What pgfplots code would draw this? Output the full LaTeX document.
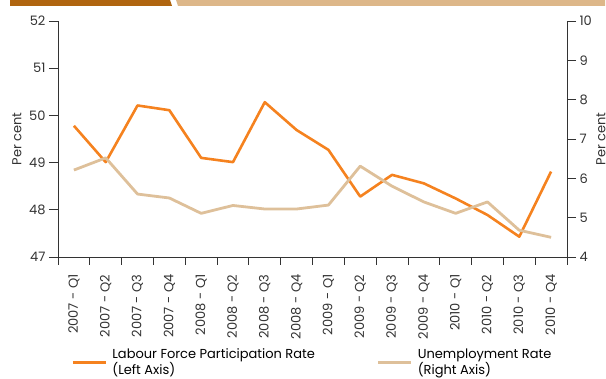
\documentclass[border=0pt]{standalone}
\usepackage{pgfplots}
\pgfplotsset{compat=1.18}
\usepackage{fontspec}
\setmainfont{Poppins}
\definecolor{lfpr}{HTML}{F5821F}
\definecolor{unemp}{HTML}{DEC09A}
\definecolor{hdark}{HTML}{B0650F}
\definecolor{hlight}{HTML}{DDB789}
\definecolor{axisgray}{HTML}{333333}
\begin{document}
\begin{tikzpicture}[x=1pt,y=1pt]
\pgfplotsset{
  base/.style={
    at={(58pt,122pt)}, anchor=south west,
    scale only axis, width=509pt, height=236pt,
    xmin=-0.5, xmax=15.5,
    axis line style={draw=axisgray, line width=0.8pt},
    tick style={draw=axisgray, line width=0.8pt},
    tick align=outside,
    major tick length=9pt, minor tick length=8pt,
    tick label style={font=\fontsize{13}{15}\selectfont, text=axisgray},
    /pgf/number format/assume math mode=true,
    label style={font=\fontsize{13}{15}\selectfont, text=axisgray},
  }
}
\begin{axis}[base, axis y line*=left, axis x line*=bottom,
  ymin=47, ymax=52, ytick={47,48,49,50,51,52},
  xtick={0,1,2,3,4,5,6,7,8,9,10,11,12,13,14,15},
  xticklabels={2007 - Q1,2007 - Q2,2007 - Q3,2007 - Q4,2008 - Q1,2008 - Q2,2008 - Q3,2008 - Q4,2009 - Q1,2009 - Q2,2009 - Q3,2009 - Q4,2010 - Q1,2010 - Q2,2010 - Q3,2010 - Q4},
  x tick label style={yshift=-5pt, rotate=90, anchor=east},
  major x tick style={draw=none},
  minor xtick={-0.5,0.5,1.5,2.5,3.5,4.5,5.5,6.5,7.5,8.5,9.5,10.5,11.5,12.5,13.5,14.5,15.5},
  ylabel={Per cent},
  ylabel style={at={(axis description cs:-0.0806,0.5)}, anchor=center, rotate=0},
]
\addplot[lfpr, line width=2.6pt, line join=round] coordinates {
(0,49.78) (1,49.01) (2,50.21) (3,50.11) (4,49.10) (5,49.01) (6,50.28) (7,49.69)
(8,49.27) (9,48.28) (10,48.74) (11,48.56) (12,48.24) (13,47.89) (14,47.43) (15,48.81)};
\end{axis}
\begin{axis}[base, axis y line*=right, axis x line=none,
  ymin=4, ymax=10, ytick={4,5,6,7,8,9,10},
  ylabel={Per cent},
  ylabel style={at={(axis description cs:1.0668,0.5)}, anchor=center},
  legend style={at={(0.02,-0.37)}, anchor=north west, draw=none, fill=none,
    legend columns=2, cells={align=left}, font=\fontsize{13}{16}\selectfont,
    /tikz/every odd column/.append style={column sep=3pt},
    /tikz/every even column/.append style={column sep=60pt}},
  legend image code/.code={\draw[#1] (0pt,0pt) -- (33pt,0pt);},
]
\addlegendimage{lfpr, line width=3pt}
\addlegendentry{Labour Force Participation Rate\\(Left Axis)}
\addplot[unemp, line width=2.8pt, line join=round] coordinates {
(0,6.21) (1,6.52) (2,5.60) (3,5.50) (4,5.11) (5,5.31) (6,5.22) (7,5.22)
(8,5.32) (9,6.31) (10,5.80) (11,5.40) (12,5.11) (13,5.40) (14,4.68) (15,4.50)};
\addlegendentry{Unemployment Rate\\(Right Axis)}
\end{axis}
\fill[hdark] (10,379) -- (170,379) -- (172,373) -- (10,373) -- cycle;
\fill[hlight] (176,379) -- (605,379) -- (605,373) -- (178,373) -- cycle;
\pgfresetboundingbox
\useasboundingbox (0,0) rectangle (606,379);
\end{tikzpicture}
\end{document}
